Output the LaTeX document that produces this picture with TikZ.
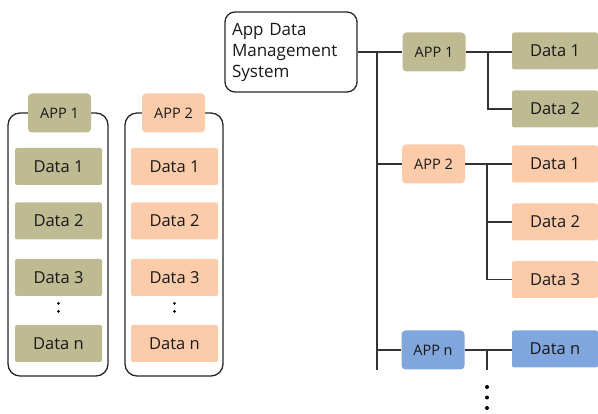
\documentclass[tikz,border=0pt]{standalone}
\usepackage{fontspec}
\setmainfont{Open Sans}
\definecolor{khaki}{RGB}{190,186,146}
\definecolor{peach}{RGB}{251,203,170}
\definecolor{bluebox}{RGB}{128,166,222}
\tikzset{
  databox/.style={fill=#1, rounded corners=2pt, minimum width=87pt, minimum height=37pt, inner sep=0pt, font=\fontsize{16.5}{18}\selectfont, text=black!90},
  appbox/.style={fill=#1, rounded corners=4pt, minimum width=63pt, minimum height=39pt, inner sep=0pt, font=\fontsize{14.5}{16}\selectfont, text=black!90},
  frame/.style={draw=black!85, line width=1.3pt, rounded corners=12pt},
  conn/.style={draw=black!80, line width=1.2pt},
  dot/.style={circle, fill=black, inner sep=0pt, minimum size=4pt},
  smalldot/.style={circle, fill=black, inner sep=0pt, minimum size=3pt},
}
\begin{document}
\begin{tikzpicture}[x=1pt,y=-1pt]
\useasboundingbox (0,0) rectangle (598,414);
% left frames
\draw[frame] (8,113) rectangle (108,376);
\draw[frame] (125,113) rectangle (223,376);
\node[appbox=khaki] (l1app) at (59.5,113) {APP 1};
\node[appbox=peach] (l2app) at (173.5,113) {APP 2};
\node[databox=khaki] (l1d1) at (58.5,166.5) {Data 1};
\node[databox=khaki] (l1d2) at (58.5,221) {Data 2};
\node[databox=khaki] (l1d3) at (58.5,277.5) {Data 3};
\node[databox=khaki] (l1dn) at (58.5,343.5) {Data n};
\node[databox=peach] (l2d1) at (174.5,166.5) {Data 1};
\node[databox=peach] (l2d2) at (174.5,221) {Data 2};
\node[databox=peach] (l2d3) at (174.5,277.5) {Data 3};
\node[databox=peach] (l2dn) at (174.5,343.5) {Data n};
\node[smalldot] (l1c1) at (58.5,303.5) {};
\node[smalldot] (l1c2) at (58.5,311.5) {};
\node[smalldot] (l2c1) at (174.5,303.5) {};
\node[smalldot] (l2c2) at (174.5,311.5) {};
% system
\node[draw=black!85, line width=1.3pt, rounded corners=10pt, minimum width=132pt, minimum height=80pt, text width=118pt, inner sep=0pt, align=left, font=\fontsize{17}{21}\selectfont, text=black!90] (sys) at (291,52) {App Data\\Management\\System};
\node[appbox=khaki] (a1) at (434,52) {APP 1};
\node[appbox=peach] (a2) at (433.5,164) {APP 2};
\node[appbox=bluebox] (an) at (433,350) {APP n};
\node[databox=khaki, minimum width=86pt] (a1d1) at (555,51) {Data 1};
\node[databox=khaki, minimum width=86pt] (a1d2) at (555,109) {Data 2};
\node[databox=peach, minimum width=86pt] (a2d1) at (555,164) {Data 1};
\node[databox=peach, minimum width=86pt] (a2d2) at (555,222) {Data 2};
\node[databox=peach, minimum width=86pt] (a2d3) at (555,279.5) {Data 3};
\node[databox=bluebox, minimum width=86pt] (andn) at (555,349) {Data n};
\coordinate (ttop) at (377,52);
\coordinate (tbot) at (377,370);
\coordinate (b1) at (488,52);
\coordinate (b2) at (487,164);
\coordinate (bn) at (487,370);
% connectors
\draw[conn] (sys.east) -- (a1.west);
\draw[conn] (ttop) -- (tbot);
\draw[conn] (tbot |- a2.west) -- (a2.west);
\draw[conn] (tbot |- an.west) -- (an.west);
\draw[conn] (a1.east) -- (a1d1.west |- a1.east);
\draw[conn] (b1) |- (a1d2.west);
\draw[conn] (a2.east) -- (a2d1.west |- a2.east);
\draw[conn] (b2) |- (a2d2.west);
\draw[conn] (b2) |- (a2d3.west);
\draw[conn] (an.east) -- (andn.west |- an.east);
\draw[conn] (bn |- an.east) -- (bn);
\node[dot] (d1) at (487,387) {};
\node[dot] (d2) at (487,397.5) {};
\node[dot] (d3) at (487,408) {};
\end{tikzpicture}
\end{document}
